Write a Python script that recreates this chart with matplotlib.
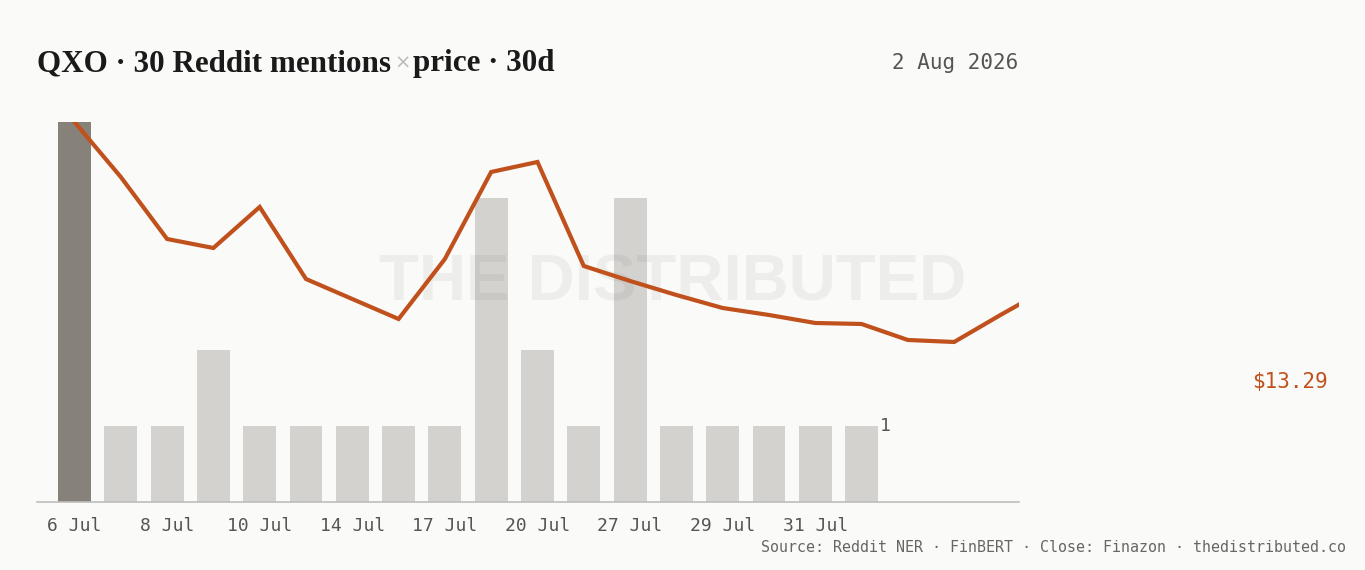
import matplotlib
matplotlib.use("Agg")
import matplotlib.pyplot as plt
import numpy as np

# data
dates = ["6 Jul", "7 Jul", "8 Jul", "9 Jul", "10 Jul", "13 Jul", "14 Jul", "15 Jul",
         "17 Jul", "18 Jul", "20 Jul", "22 Jul", "27 Jul", "28 Jul", "29 Jul", "30 Jul",
         "31 Jul", "1 Aug", "2 Aug", "3 Aug", "4 Aug", "5 Aug"]
mentions = [5, 1, 1, 2, 1, 1, 1, 1, 1, 4, 2, 1, 4, 1, 1, 1, 1, 1]
price = [15.22, 14.67, 14.05, 13.96, 14.37, 13.65, 13.45, 13.25, 13.85, 14.72, 14.82,
         13.78, 13.63, 13.49, 13.36, 13.29, 13.21, 13.20, 13.04, 13.02, 13.29, 13.55]
last_close = "$13.29"

BG = "#fafaf8"
BAR = "#d3d2ce"
BAR_HI = "#878279"
LINE = "#c0501c"
MONO = "DejaVu Sans Mono"

fig = plt.figure(figsize=(13.65, 5.70), dpi=100, facecolor=BG)
ax = fig.add_axes([0.0271, 0.1193, 0.7194, 0.6667])
ax.set_facecolor(BG)

xb = np.arange(len(mentions))
colors = [BAR_HI] + [BAR] * (len(mentions) - 1)
ax.bar(xb, mentions, width=0.71, color=colors, zorder=1)
ax.set_ylim(0, 5)
ax.set_xlim(-0.81, 20.4)
ax.text(xb[-1] + 0.4, mentions[-1], str(mentions[-1]), fontsize=13, family=MONO,
        color="#555555", ha="left", va="center")

for s in ["top", "right", "left"]:
    ax.spines[s].set_visible(False)
ax.spines["bottom"].set_color("#bdbdbb")
ax.spines["bottom"].set_linewidth(1.2)
ax.set_yticks([])
ax.set_xticks(xb[0:17:2])
ax.set_xticklabels(dates[0:17:2], family=MONO, fontsize=13, color="#555555")
ax.tick_params(axis="x", length=0, pad=11)

# watermark
ax.text(0.647, 0.575, "THE DISTRIBUTED", transform=ax.transAxes, ha="center",
        va="center", fontsize=47, fontweight="bold", family="Liberation Sans",
        color="#555555", alpha=0.08, zorder=2)

ax2 = ax.twinx()
ax2.set_ylim(11.42, 15.22)
ax2.plot(np.arange(len(price)), price, color=LINE, lw=3, zorder=3,
         solid_joinstyle="miter", clip_on=True)
ax2.set_yticks([])
for s in ax2.spines.values():
    s.set_visible(False)

# title in three pieces
renderer = fig.canvas.get_renderer()
t1 = fig.text(37 / 1365, 1 - 71 / 570, "QXO · 30 Reddit mentions", fontsize=22.4,
              fontweight="bold", family="Liberation Serif", color="#1a1a1a",
              ha="left", va="baseline")
bb = t1.get_window_extent(renderer)
t2 = fig.text((bb.x1 + 3) / 1365, 1 - 69 / 570, "×", fontsize=14,
              family="DejaVu Sans", color="#bbbbbb", ha="left", va="baseline")
bb2 = t2.get_window_extent(renderer)
fig.text((bb2.x1 + 3) / 1365, 1 - 71 / 570, "price · 30d", fontsize=22.4,
         fontweight="bold", family="Liberation Serif", color="#1a1a1a",
         ha="left", va="baseline")

fig.text(1018 / 1365, 1 - 63 / 570, "2 Aug 2026", fontsize=15, family=MONO,
         color="#555555", ha="right", va="center")
fig.text(1328 / 1365, 1 - 382 / 570, last_close, fontsize=15, family=MONO,
         color=LINE, ha="right", va="center")
fig.text(1346 / 1365, 1 - 547 / 570,
         "Source: Reddit NER · FinBERT · Close: Finazon · thedistributed.co",
         fontsize=10.8, family=MONO, color="#666666", ha="right", va="center")

fig.savefig("out.png", dpi=100, facecolor=BG)
